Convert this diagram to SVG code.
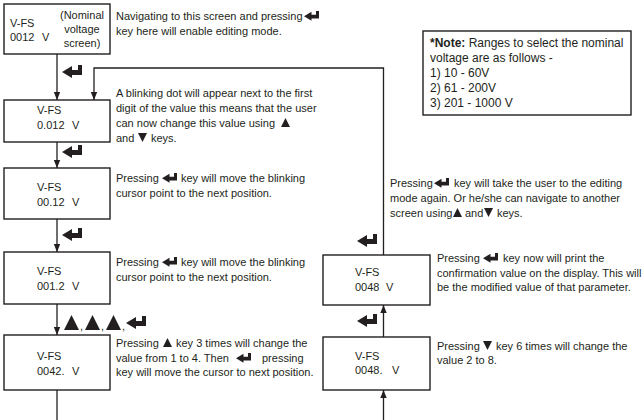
<svg xmlns="http://www.w3.org/2000/svg" xmlns:xlink="http://www.w3.org/1999/xlink" width="642" height="420" viewBox="0 0 642 420">
<style>
  text { font-family: "Liberation Sans", Arial, sans-serif; font-size: 11px; fill: #231f20; }
  .note { font-size: 12px; }
  .b { font-weight: bold; }
  .box { fill: #ffffff; stroke: #231f20; stroke-width: 1.4; }
  .ln { fill: none; stroke: #231f20; stroke-width: 1.3; }
  .ic { fill: #231f20; }
  .mid { text-anchor: middle; }
</style>
<defs>
  <marker id="ah" viewBox="0 0 8 8" refX="8" refY="4" markerWidth="8" markerHeight="8" markerUnits="userSpaceOnUse" orient="auto">
    <path d="M0,0.8 L8,4 L0,7.2 Z" fill="#231f20"/>
  </marker>
  <path id="ent" d="M0,7 L10,1 L10,5 L16,5 L16,0 L20,0 L20,10 L10,10 L10,13 Z"/>
  <path id="up" d="M0,10 L5,0 L10,10 Z"/>
  <path id="dn" d="M0,0 L10,0 L5,10 Z"/>
</defs>
<rect width="642" height="420" fill="#ffffff"/>

<g id="connectors">
  <line class="ln" x1="57" y1="54" x2="57" y2="100" marker-end="url(#ah)"/>
  <polyline class="ln" points="383.5,255 383.5,68 94,68 94,100" marker-end="url(#ah)"/>
  <line class="ln" x1="57" y1="142" x2="57" y2="168" marker-end="url(#ah)"/>
  <line class="ln" x1="57" y1="219" x2="57" y2="252" marker-end="url(#ah)"/>
  <line class="ln" x1="57" y1="304" x2="57" y2="335" marker-end="url(#ah)"/>
  <line class="ln" x1="57" y1="390" x2="57" y2="420"/>
  <line class="ln" x1="383.5" y1="420" x2="383.5" y2="390" marker-end="url(#ah)"/>
  <line class="ln" x1="383.5" y1="337" x2="383.5" y2="305" marker-end="url(#ah)"/>
  <use href="#ent" class="ic" transform="translate(62,65)"/>
  <use href="#ent" class="ic" transform="translate(62,145)"/>
  <use href="#ent" class="ic" transform="translate(62,228)"/>
  <use href="#up" class="ic" transform="translate(64,315) scale(1.5)"/>
  <text x="80" y="330">,</text>
  <use href="#up" class="ic" transform="translate(85,315) scale(1.5)"/>
  <text x="101" y="330">,</text>
  <use href="#up" class="ic" transform="translate(106,315) scale(1.5)"/>
  <text x="122" y="330">,</text>
  <use href="#ent" class="ic" transform="translate(126,316)"/>
  <use href="#ent" class="ic" transform="translate(357,234)"/>
  <use href="#ent" class="ic" transform="translate(357,314)"/>
</g>

<g id="node1">
  <rect class="box" x="4" y="4" width="106" height="50"/>
  <text x="10" y="27">V-FS</text>
  <text x="10" y="41">0012</text>
  <text x="42" y="41">V</text>
  <text class="mid" x="82" y="19">(Nominal</text>
  <text class="mid" x="82" y="33">voltage</text>
  <text class="mid" x="82" y="47">screen)</text>
  <text x="116" y="20">Navigating to this screen and pressing</text>
  <use href="#ent" class="ic" transform="translate(304,11) scale(0.75)"/>
  <text x="116" y="35">key here will enable editing mode.</text>
</g>

<g id="node2">
  <rect class="box" x="4" y="100" width="106" height="42"/>
  <text x="37" y="114">V-FS</text>
  <text x="37" y="129">0.012</text>
  <text x="72" y="129">V</text>
  <text x="116" y="97">A blinking dot will appear next to the first</text>
  <text x="116" y="112">digit of the value this means that the user</text>
  <text x="116" y="127">can now change this value using</text>
  <use href="#up" class="ic" transform="translate(281,118) scale(0.9)"/>
  <text x="116" y="142">and</text>
  <use href="#dn" class="ic" transform="translate(138,133) scale(0.9)"/>
  <text x="151" y="142">keys.</text>
</g>

<g id="node3">
  <rect class="box" x="4" y="168" width="106" height="51"/>
  <text x="37" y="191">V-FS</text>
  <text x="37" y="206">00.12</text>
  <text x="72" y="206">V</text>
  <text x="116" y="182">Pressing</text>
  <use href="#ent" class="ic" transform="translate(162,173) scale(0.75)"/>
  <text x="181" y="182">key will move the blinking</text>
  <text x="116" y="197">cursor point to the next position.</text>
</g>

<g id="node4">
  <rect class="box" x="4" y="252" width="106" height="52"/>
  <text x="37" y="275">V-FS</text>
  <text x="37" y="290">001.2</text>
  <text x="72" y="290">V</text>
  <text x="116" y="266">Pressing</text>
  <use href="#ent" class="ic" transform="translate(162,257) scale(0.75)"/>
  <text x="181" y="266">key will move the blinking</text>
  <text x="116" y="281">cursor point to the next position.</text>
</g>

<g id="node5">
  <rect class="box" x="4" y="335" width="106" height="55"/>
  <text x="37" y="360">V-FS</text>
  <text x="37" y="375">0042.</text>
  <text x="72" y="375">V</text>
  <text x="116" y="347">Pressing</text>
  <use href="#up" class="ic" transform="translate(163,338) scale(0.9)"/>
  <text x="176" y="347">key 3 times will change the</text>
  <text x="116" y="362">value from 1 to 4. Then</text>
  <use href="#ent" class="ic" transform="translate(236,353) scale(0.75)"/>
  <text x="262" y="362">pressing</text>
  <text x="116" y="376">key will move the cursor to next position.</text>
</g>

<g id="note">
  <rect class="box" x="423" y="31" width="208" height="84"/>
  <text class="note" x="430" y="47"><tspan class="b">*Note:</tspan> Ranges to select the nominal</text>
  <text class="note" x="430" y="62">voltage are as follows -</text>
  <text class="note" x="430" y="77">1) 10 - 60V</text>
  <text class="note" x="430" y="92">2) 61 - 200V</text>
  <text class="note" x="430" y="107">3) 201 - 1000 V</text>
</g>

<g id="loop-label">
  <text x="390" y="187">Pressing</text>
  <use href="#ent" class="ic" transform="translate(434,178) scale(0.75)"/>
  <text x="454" y="187">key will take the user to the editing</text>
  <text x="390" y="202">mode again. Or he/she can navigate to another</text>
  <text x="390" y="217">screen using</text>
  <use href="#up" class="ic" transform="translate(453,208) scale(0.9)"/>
  <text x="465" y="217">and</text>
  <use href="#dn" class="ic" transform="translate(484,208) scale(0.9)"/>
  <text x="497" y="217">keys.</text>
</g>

<g id="node7">
  <rect class="box" x="323" y="255" width="107" height="50"/>
  <text x="355" y="276">V-FS</text>
  <text x="355" y="291">0048</text>
  <text x="386" y="291">V</text>
  <text x="437" y="262">Pressing</text>
  <use href="#ent" class="ic" transform="translate(483,253) scale(0.75)"/>
  <text x="503" y="262">key now will print the</text>
  <text x="437" y="277">confirmation value on the display. This will</text>
  <text x="437" y="291">be the modified value of that parameter.</text>
</g>

<g id="node6">
  <rect class="box" x="323" y="337" width="107" height="53"/>
  <text x="355" y="360">V-FS</text>
  <text x="355" y="374">0048.</text>
  <text x="392" y="374">V</text>
  <text x="437" y="350">Pressing</text>
  <use href="#dn" class="ic" transform="translate(483,341) scale(0.9)"/>
  <text x="496" y="350">key 6 times will change the</text>
  <text x="437" y="364">value 2 to 8.</text>
</g>
</svg>
